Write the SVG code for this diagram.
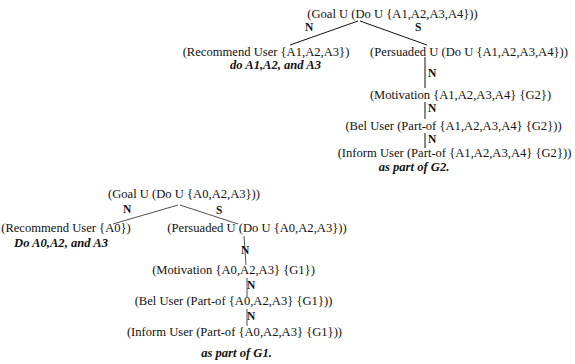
<svg xmlns="http://www.w3.org/2000/svg" width="575" height="364" viewBox="0 0 575 364">
<style>
text{font-family:"Liberation Serif","Times New Roman",serif;font-size:12.6px;fill:#111}
.m{text-anchor:middle}
.lbl{font-weight:bold;font-size:11.5px}
.bi{font-weight:bold;font-style:italic;text-anchor:middle}
.c line{stroke:#111;stroke-width:1}
.c2 line{stroke:#222;stroke-width:0.8}
</style>
<rect width="575" height="364" fill="#fff"/>
<g id="connectors-top" class="c">
<line x1="358" y1="21" x2="290" y2="45"/>
<line x1="360" y1="21" x2="427" y2="45"/>
<line x1="425" y1="57" x2="425" y2="88"/>
<line x1="425" y1="102" x2="425" y2="119"/>
<line x1="425" y1="133" x2="425" y2="148"/>
</g>
<g id="connectors-bottom" class="c2">
<line x1="178" y1="205" x2="113" y2="224"/>
<line x1="180" y1="205" x2="238" y2="224"/>
<line x1="244" y1="236" x2="246" y2="265"/>
<line x1="247" y1="278" x2="247" y2="297"/>
<line x1="247" y1="309" x2="247" y2="326"/>
</g>
<g id="edge-labels">
<text class="lbl" x="305" y="31">N</text>
<text class="lbl" x="415" y="31">S</text>
<text class="lbl" x="428" y="77">N</text>
<text class="lbl" x="428" y="112">N</text>
<text class="lbl" x="428" y="143">N</text>
<text class="lbl" x="123" y="213">N</text>
<text class="lbl" x="216" y="214">S</text>
<text class="lbl" x="241" y="254">N</text>
<text class="lbl" x="247" y="289">N</text>
<text class="lbl" x="247" y="320">N</text>
</g>
<g id="goal2"><text class="m" x="392.5" y="18">(Goal U (Do U {A1,A2,A3,A4}))</text></g>
<g id="recommend2">
<text class="m" x="266" y="56">(Recommend User {A1,A2,A3})</text>
<text class="bi" x="275.5" y="69">do A1,A2, and A3</text>
</g>
<g id="persuaded2"><text class="m" x="469" y="56">(Persuaded U (Do U {A1,A2,A3,A4}))</text></g>
<g id="motivation2"><text class="m" x="460.5" y="99">(Motivation {A1,A2,A3,A4} {G2})</text></g>
<g id="bel2"><text class="m" x="453.5" y="130">(Bel User (Part-of {A1,A2,A3,A4} {G2}))</text></g>
<g id="inform2">
<text class="m" x="454.5" y="157">(Inform User (Part-of {A1,A2,A3,A4} {G2}))</text>
<text class="bi" x="414" y="171">as part of G2.</text>
</g>
<g id="goal1"><text class="m" x="184" y="198">(Goal U (Do U {A0,A2,A3}))</text></g>
<g id="recommend1">
<text class="m" x="66" y="232">(Recommend User {A0})</text>
<text class="bi" x="61" y="247">Do A0,A2, and A3</text>
</g>
<g id="persuaded1"><text class="m" x="257" y="232">(Persuaded U (Do U {A0,A2,A3}))</text></g>
<g id="motivation1"><text class="m" x="233.5" y="274">(Motivation {A0,A2,A3} {G1})</text></g>
<g id="bel1"><text class="m" x="233.5" y="305">(Bel User (Part-of {A0,A2,A3} {G1}))</text></g>
<g id="inform1">
<text class="m" x="234.5" y="336">(Inform User (Part-of {A0,A2,A3} {G1}))</text>
<text class="bi" x="236.5" y="357">as part of G1.</text>
</g>
</svg>
